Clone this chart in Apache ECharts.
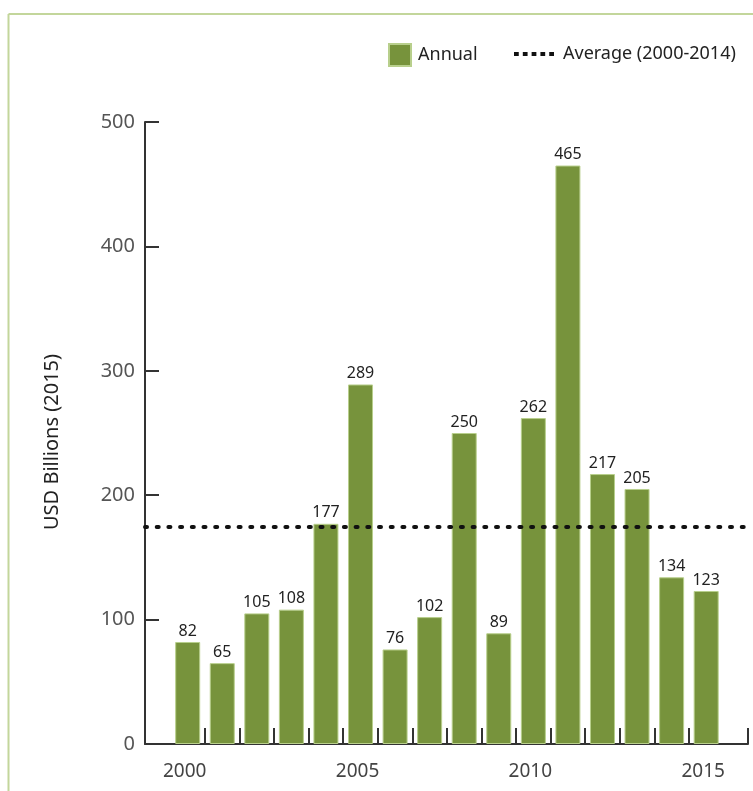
<!DOCTYPE html>
<html>
<head>
<meta charset="utf-8">
<script src="https://cdn.jsdelivr.net/npm/echarts@6/dist/echarts.min.js"></script>
<style>
html,body{margin:0;padding:0;background:#fff;}
#main{width:753px;height:791px;}
</style>
</head>
<body>
<div id="main"></div>
<script>
// ---- data ----
const years = [2000,2001,2002,2003,2004,2005,2006,2007,2008,2009,2010,2011,2012,2013,2014,2015];
const annual = [82,65,105,108,177,289,76,102,250,89,262,465,217,205,134,123];
const average = 175; // Average (2000-2014)
const xLabelYears = [2000,2005,2010,2015];
const yTicks = [0,100,200,300,400,500];
const seriesNames = ['Annual','Average (2000-2014)'];
const yAxisTitle = 'USD Billions (2015)';

// axis extent (in year units)
const X_MIN = 1998.765;
const X_MAX = 2016.21;

const FONT = 'Noto Sans';
const chart = echarts.init(document.getElementById('main'), null, {renderer:'canvas'});

const tickVals = years.slice(0,-1).map(y => y + 0.5).concat([X_MAX]);
const dotIcon = 'path://M0 0h5v4h-5z M9.25 0h5v4h-5z M18.5 0h5v4h-5z M27.75 0h5v4h-5z M37 0h5v4h-5z';

chart.setOption({
  animation:false,
  backgroundColor:'#fff',
  textStyle:{fontFamily:FONT},
  graphic:[
    {type:'line', shape:{x1:8.5,y1:14,x2:753,y2:14}, style:{stroke:'#c3d69b', lineWidth:2}},
    {type:'line', shape:{x1:8.5,y1:14,x2:8.5,y2:791}, style:{stroke:'#c3d69b', lineWidth:2}},
    {type:'text', x:52, y:442, rotation:Math.PI/2,
     style:{text:yAxisTitle, font:'20px "Noto Sans"', fill:'#222', align:'center', verticalAlign:'middle'}}
  ],
  legend:[
    {
      data:[{name:seriesNames[0], icon:'rect'}], left:388, top:43, padding:0, itemWidth:22, itemHeight:22,
      textStyle:{fontFamily:FONT,fontSize:18,color:'#222',padding:[0,0,0,2]}
    },
    {
      data:[{name:seriesNames[1], icon:dotIcon}], left:514, top:43, padding:0, itemWidth:40, itemHeight:4,
      textStyle:{fontFamily:FONT,fontSize:18,color:'#222',lineHeight:22,padding:[0,0,0,4]}
    }
  ],
  grid:{left:145, right:5, top:122, bottom:47, containLabel:false},
  xAxis:{
    type:'value', min:X_MIN, max:X_MAX,
    splitLine:{show:false},
    axisLine:{show:true, lineStyle:{color:'#333', width:2}},
    axisTick:{show:true, inside:true, length:16, customValues:tickVals, lineStyle:{color:'#333', width:2}},
    axisLabel:{customValues:xLabelYears, formatter:v => String(v), fontFamily:FONT, fontSize:19, color:'#444', margin:18, padding:[0,6,0,0]}
  },
  yAxis:{
    type:'value', min:yTicks[0], max:yTicks[yTicks.length-1], interval:100,
    splitLine:{show:false},
    axisLine:{show:true, lineStyle:{color:'#333', width:2}},
    axisTick:{show:true, inside:true, length:14, lineStyle:{color:'#333', width:2}},
    axisLabel:{fontFamily:FONT, fontSize:20, color:'#555', margin:10}
  },
  series:[
    {
      name:seriesNames[0], type:'bar',
      data:years.map((y,i)=>[y, annual[i]]),
      barWidth:25,
      itemStyle:{color:'#77933c', borderColor:'#b8cf8c', borderWidth:1},
      label:{show:true, position:'top', distance:3, fontFamily:FONT, fontSize:16, color:'#222'}
    },
    {
      name:seriesNames[1], type:'line', data:[], symbol:'none',
      lineStyle:{color:'#111', width:4, type:[2,9.7], cap:'round'},
      itemStyle:{color:'#111'},
      markLine:{
        silent:true, symbol:['none','none'],
        label:{show:false},
        lineStyle:{color:'#111', width:4, type:[2,9.7], cap:'round'},
        data:[{yAxis:average}]
      }
    }
  ]
});
</script>
</body>
</html>
